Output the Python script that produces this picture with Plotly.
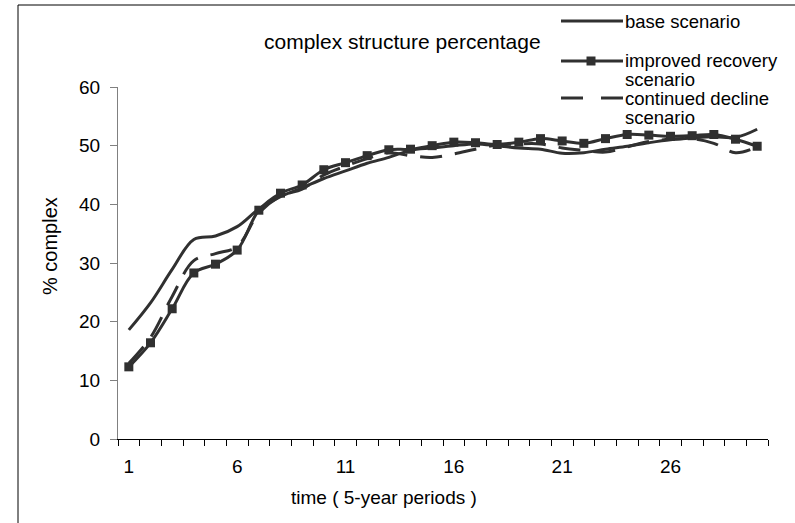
import plotly.graph_objects as go

# ---- data ----
periods = list(range(1, 31))
base_scenario = [18.6, 23.2, 28.9, 34.0, 34.6, 36.2, 39.2, 41.3, 42.8, 44.4,
                 45.7, 47.0, 48.0, 49.2, 49.6, 50.0, 50.3, 50.0, 49.6, 49.4,
                 48.7, 48.8, 49.4, 49.9, 50.5, 51.0, 51.3, 51.5, 51.4, 52.8]
improved_recovery = [12.3, 16.4, 22.2, 28.3, 29.8, 32.2, 39.0, 41.9, 43.3, 45.9,
                     47.1, 48.3, 49.3, 49.4, 50.0, 50.6, 50.5, 50.2, 50.6, 51.2,
                     50.8, 50.4, 51.2, 51.9, 51.8, 51.6, 51.7, 51.9, 51.1, 49.9]
continued_decline = [12.9, 17.3, 24.3, 30.4, 31.6, 32.8, 38.5, 41.4, 42.6, 45.0,
                     46.5, 47.8, 48.8, 48.3, 48.0, 48.6, 49.4, 50.1, 50.3, 50.3,
                     49.6, 49.2, 48.9, 49.8, 50.7, 51.1, 51.2, 50.4, 48.8, 49.8]
x_tick_labels = ["1", "6", "11", "16", "21", "26"]
x_tick_positions = [1, 6, 11, 16, 21, 26]
y_ticks = [0, 10, 20, 30, 40, 50, 60]

LINE = "#303030"
FONT = "Liberation Sans, Arial, sans-serif"

W, H = 795, 523
L, R, T, B = 118, 27, 87, 84
PW, PH = W - L - R, H - T - B


def px(xp):
    return (xp - L) / PW


def py(yp):
    return (H - B - yp) / PH


fig = go.Figure()
fig.add_trace(go.Scatter(
    x=periods, y=continued_decline, name="continued decline scenario",
    mode="lines", line=dict(color=LINE, width=3, dash="22px,13px", shape="spline"),
    showlegend=False))
fig.add_trace(go.Scatter(
    x=periods, y=base_scenario, name="base scenario",
    mode="lines", line=dict(color=LINE, width=3, shape="spline"),
    showlegend=False))
fig.add_trace(go.Scatter(
    x=periods, y=improved_recovery, name="improved recovery scenario",
    mode="lines+markers", line=dict(color=LINE, width=3, shape="spline"),
    marker=dict(symbol="square", size=9, color=LINE),
    showlegend=False))

fig.update_layout(
    width=W, height=H,
    margin=dict(l=L, r=R, t=T, b=B),
    paper_bgcolor="white", plot_bgcolor="white",
    font=dict(family=FONT, color="black", size=19),
    xaxis=dict(range=[0.5, 30.5], tickvals=x_tick_positions, ticktext=x_tick_labels,
               ticks="", showline=True, linecolor="black", linewidth=1,
               showgrid=False, zeroline=False, tickfont=dict(size=19),
               ticklabelstandoff=10,
               minor=dict(tickvals=[i + 0.5 for i in range(0, 31)], ticks="outside",
                          ticklen=6, tickcolor="black", showgrid=False)),
    yaxis=dict(range=[0, 60], tickvals=y_ticks, ticks="outside", ticklen=7,
               tickcolor="#808080", showline=True, linecolor="#808080", linewidth=1,
               showgrid=False, zeroline=False, tickfont=dict(size=19),
               ticklabelstandoff=6),
)

annotations = [
    dict(text="complex structure percentage", x=px(402), y=py(42), font=dict(size=21)),
    dict(text="time ( 5-year periods )", x=px(384), y=py(497), font=dict(size=19)),
    dict(text="% complex", x=px(50), y=py(246), textangle=-90, font=dict(size=20)),
]
legend_rows = [
    ("base scenario", 21),
    ("improved recovery", 61),
    ("scenario", 79),
    ("continued decline", 99),
    ("scenario", 117),
]
for txt, yy in legend_rows:
    annotations.append(dict(text=txt, x=px(623), y=py(yy), xanchor="left",
                            font=dict(size=18.5)))
for a in annotations:
    a.setdefault("xanchor", "center")
    a.update(xref="paper", yref="paper", yanchor="middle", showarrow=False)
fig.update_layout(annotations=annotations)

shapes = [
    # chart border
    dict(type="rect", xref="paper", yref="paper", x0=px(18), x1=px(830),
         y0=py(560), y1=py(5), line=dict(color="black", width=1)),
    # legend samples
    dict(type="line", xref="paper", yref="paper", x0=px(561), x1=px(623),
         y0=py(21), y1=py(21), line=dict(color=LINE, width=3)),
    dict(type="line", xref="paper", yref="paper", x0=px(561), x1=px(623),
         y0=py(61), y1=py(61), line=dict(color=LINE, width=3)),
    dict(type="rect", xref="paper", yref="paper", x0=px(586.5), x1=px(595.5),
         y0=py(65.5), y1=py(56.5), fillcolor=LINE, line=dict(width=0)),
    dict(type="line", xref="paper", yref="paper", x0=px(561), x1=px(623),
         y0=py(98), y1=py(98), line=dict(color=LINE, width=3, dash="22px,18px")),
]
fig.update_layout(shapes=shapes)

fig.write_html("out.html",
               config={"displayModeBar": False},
               post_script="document.body.style.margin='0';"
                           "document.body.style.overflow='hidden';")
